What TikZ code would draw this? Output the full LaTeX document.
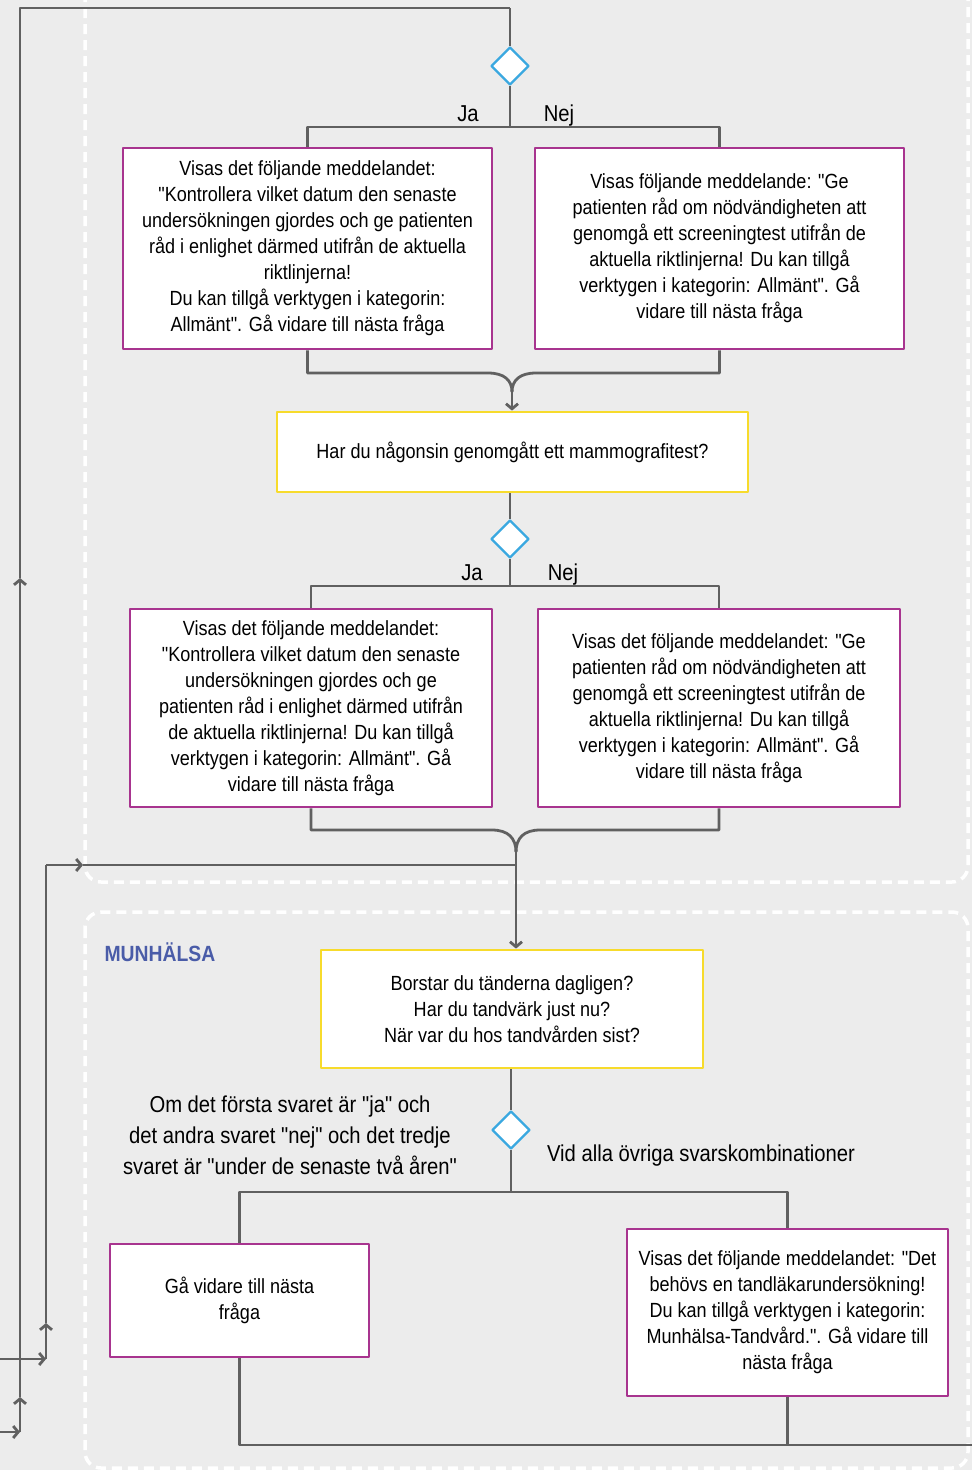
\documentclass[tikz,border=0pt]{standalone}
\usepackage{fontspec}
\setmainfont{Liberation Sans}[FakeStretch=0.88, Ligatures=TeXOff]
\usepackage{xcolor}
\usetikzlibrary{shapes.geometric,arrows.meta}
\definecolor{bgGrey}{HTML}{ECECEC}
\definecolor{lineGrey}{HTML}{606060}
\definecolor{msgPurple}{HTML}{A8348F}
\definecolor{qYellow}{HTML}{F7DB2C}
\definecolor{dBlue}{HTML}{3AA8E0}
\definecolor{secBlue}{HTML}{4A5CA8}
\tikzset{
  conn/.style={draw=lineGrey, line width=2.8pt},
  msgbox/.style={draw=msgPurple, fill=white, line width=2.6pt, align=center, inner sep=0pt,
    font=\fontsize{20.5}{26}\selectfont},
  qbox/.style={draw=qYellow, fill=white, line width=2.8pt, align=center, inner sep=0pt,
    font=\fontsize{20.5}{26}\selectfont},
  choice/.style={diamond, draw=dBlue, fill=white, line width=2.4pt, inner sep=0pt,
    minimum width=38pt, minimum height=38pt},
  region/.style={draw=white, line width=3.5pt, dash pattern=on 10pt off 6pt, rounded corners=16pt},
  lbl/.style={font=\fontsize{23}{31}\selectfont, align=center}
}
\begin{document}
\begin{tikzpicture}[x=1pt, y=-1pt, line join=round, >={Straight Barb[length=5pt, width=12pt]}]
\useasboundingbox (0,0) rectangle (972,1470);
\fill[bgGrey] (0,0) rectangle (972,1470);
\draw[region] (85,-40) rectangle (968,882);
\draw[region] (85,912) rectangle (968,1468);

\node (Q1) at (510,66) [choice] {};
\node (B1) at (307.5,248.5) [msgbox, minimum width=369pt, minimum height=201pt] {Visas det följande meddelandet:\\"Kontrollera vilket datum den senaste\\undersökningen gjordes och ge patienten\\råd i enlighet därmed utifrån de aktuella\\riktlinjerna!\\Du kan tillgå verktygen i kategorin:\\Allmänt". Gå vidare till nästa fråga};
\node (B2) at (719.5,248.5) [msgbox, minimum width=369pt, minimum height=201pt] {Visas följande meddelande: "Ge\\patienten råd om nödvändigheten att\\genomgå ett screeningtest utifrån de\\aktuella riktlinjerna! Du kan tillgå\\verktygen i kategorin: Allmänt". Gå\\vidare till nästa fråga};
\node (Y1) at (512.5,452) [qbox, minimum width=471pt, minimum height=80pt] {Har du någonsin genomgått ett mammografitest?};
\node (Q2) at (510,539) [choice] {};
\node (B3) at (311,708) [msgbox, minimum width=362pt, minimum height=198pt] {Visas det följande meddelandet:\\"Kontrollera vilket datum den senaste\\undersökningen gjordes och ge\\patienten råd i enlighet därmed utifrån\\de aktuella riktlinjerna! Du kan tillgå\\verktygen i kategorin: Allmänt". Gå\\vidare till nästa fråga};
\node (B4) at (719,708) [msgbox, minimum width=362pt, minimum height=198pt] {Visas det följande meddelandet: "Ge\\patienten råd om nödvändigheten att\\genomgå ett screeningtest utifrån de\\aktuella riktlinjerna! Du kan tillgå\\verktygen i kategorin: Allmänt". Gå\\vidare till nästa fråga};
\node (Y2) at (512,1009) [qbox, minimum width=382pt, minimum height=118pt] {Borstar du tänderna dagligen?\\Har du tandvärk just nu?\\När var du hos tandvården sist?};
\node (Q3) at (511,1130) [choice] {};
\node (B5) at (239.5,1300.5) [msgbox, minimum width=259pt, minimum height=113pt] {Gå vidare till nästa\\fråga};
\node (B6) at (787.5,1312.5) [msgbox, minimum width=321pt, minimum height=167pt] {Visas det följande meddelandet: "Det\\behövs en tandläkarundersökning!\\Du kan tillgå verktygen i kategorin:\\Munhälsa-Tandvård.". Gå vidare till\\nästa fråga};

\node (N1) at (468,121) [lbl, anchor=base] {Ja};
\node (N2) at (559,121) [lbl, anchor=base] {Nej};
\node (N3) at (472,580) [lbl, anchor=base] {Ja};
\node (N4) at (563,580) [lbl, anchor=base] {Nej};
\node (T1) at (290,1135) [lbl] {Om det första svaret är "ja" och\\det andra svaret "nej" och det tredje\\svaret är "under de senaste två åren"};
\node (T2) at (701,1156) [lbl] {Vid alla övriga svarskombinationer};
\node (H1) at (160,952) [font=\fontsize{22}{26}\selectfont\bfseries, text=secBlue] {MUNHÄLSA};

\coordinate (S1) at (510,127);
\coordinate (S2) at (510,586);
\coordinate (S3) at (511,1192);
\coordinate (K1) at (488,373);
\coordinate (K2) at (536,373);
\coordinate (J1) at (512,392);
\coordinate (K3) at (492,830);
\coordinate (K4) at (540,830);
\coordinate (J2) at (516,852);
\coordinate (E1) at (972,1445);
\coordinate (L1) at (0,1432);
\coordinate (L2) at (20,1432);
\coordinate (L3) at (20,1397);
\coordinate (L4) at (20,578);
\coordinate (L5) at (20,8);
\coordinate (L6) at (510,8);
\coordinate (M1) at (0,1359);
\coordinate (M2) at (46,1359);
\coordinate (M3) at (46,1323);
\coordinate (M4) at (46,865);
\coordinate (M5) at (83,865);
\coordinate (M6) at (516,865);

\draw [conn] (L6) -- (Q1.north);
\draw [conn] (Q1.south) -- (S1);
\draw [conn] (S1) -| (B1.north);
\draw [conn] (S1) -| (B2.north);
\draw [conn] (B1.south) |- (K1) .. controls (504,373) and (512,380) .. (J1);
\draw [conn] (B2.south) |- (K2) .. controls (520,373) and (512,380) .. (J1);
\draw [conn, ->] (J1) -- (J1 |- Y1.north);
\draw [conn] (Q2.north |- Y1.south) -- (Q2.north);
\draw [conn] (Q2.south) -- (S2);
\draw [conn] (S2) -| (B3.north);
\draw [conn] (S2) -| (B4.north);
\draw [conn] (B3.south) |- (K3) .. controls (508,830) and (516,838) .. (J2);
\draw [conn] (B4.south) |- (K4) .. controls (524,830) and (516,838) .. (J2);
\draw [conn, ->] (J2) -- (J2 |- Y2.north);
\draw [conn] (Q3.north |- Y2.south) -- (Q3.north);
\draw [conn] (Q3.south) -- (S3);
\draw [conn] (S3) -| (B5.north);
\draw [conn] (S3) -| (B6.north);
\draw [conn] (B5.south) |- (E1);
\draw [conn] (B6.south) -- (B6.south |- E1);

\draw [conn, ->] (L1) -- (L2);
\draw [conn, ->] (L2) -- (L3);
\draw [conn, ->] (L3) -- (L4);
\draw [conn] (L4) -- (L5) -- (L6);
\draw [conn, ->] (M1) -- (M2);
\draw [conn, ->] (M2) -- (M3);
\draw [conn] (M3) -- (M4);
\draw [conn, ->] (M4) -- (M5);
\draw [conn] (M5) -- (M6);
\end{tikzpicture}
\end{document}
